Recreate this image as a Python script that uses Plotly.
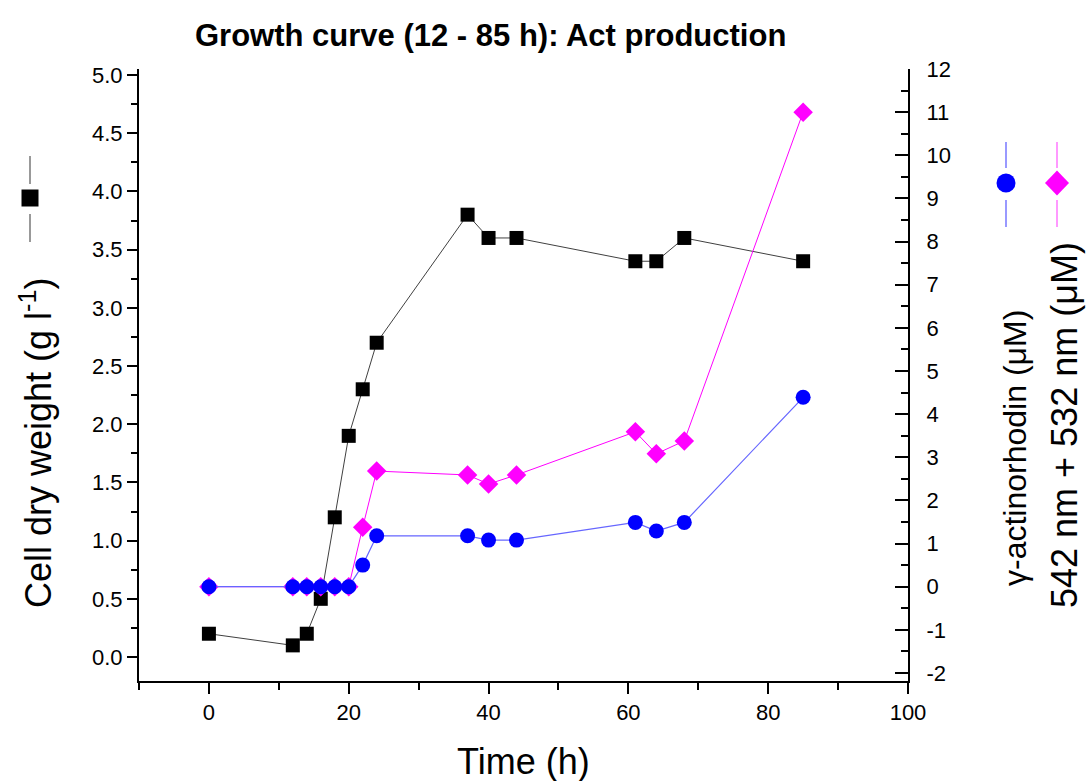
import plotly.graph_objects as go

# ---------------- data ----------------
time_h = [0, 12, 14, 16, 18, 20, 22, 24, 37, 40, 44, 61, 64, 68, 85]
cell_dry_weight = [0.2, 0.1, 0.2, 0.5, 1.2, 1.9, 2.3, 2.7, 3.8, 3.6, 3.6, 3.4, 3.4, 3.6, 3.4]
gamma_act = [0, 0, 0, 0, 0, 0, 0.5, 1.18, 1.18, 1.08, 1.08, 1.49, 1.29, 1.49, 4.39]
nm542_532 = [0, 0, 0, 0, 0, 0, 1.38, 2.68, 2.59, 2.38, 2.59, 3.59, 3.08, 3.38, 11.0]

x_ticks = [0, 20, 40, 60, 80, 100]
left_ticks = [0.0, 0.5, 1.0, 1.5, 2.0, 2.5, 3.0, 3.5, 4.0, 4.5, 5.0]
left_tick_labels = ["0.0", "0.5", "1.0", "1.5", "2.0", "2.5", "3.0", "3.5", "4.0", "4.5", "5.0"]
right_ticks = list(range(-2, 13))
right_tick_labels = [str(v) for v in right_ticks]

title_text = "Growth curve (12 - 85 h): Act production"
xlabel = "Time (h)"
ylabel_left = "Cell dry weight (g l<sup>-1</sup>)"
ylabel_right1 = "γ-actinorhodin (μM)"
ylabel_right2 = "542 nm + 532 nm (μM)"

# ---------------- layout geometry (pixels) ----------------
W, H = 1086, 781
PL, PR, PT, PB = 139, 908, 69, 681


def X(px):
    return (px - PL) / (PR - PL)


def Y(py):
    return (PB - py) / (PB - PT)


FONT = "Liberation Sans, Arial, Helvetica, sans-serif"

fig = go.Figure()

fig.add_trace(go.Scatter(
    x=time_h, y=cell_dry_weight, mode="lines+markers", name="Cell dry weight",
    line=dict(color="#404040", width=1),
    marker=dict(symbol="square", size=14, color="black"),
    yaxis="y", showlegend=False))

fig.add_trace(go.Scatter(
    x=time_h, y=nm542_532, mode="lines+markers", name="542 nm + 532 nm",
    line=dict(color="#ff00ff", width=1),
    marker=dict(symbol="diamond", size=15, color="#ff00ff"),
    yaxis="y2", showlegend=False))

fig.add_trace(go.Scatter(
    x=time_h, y=gamma_act, mode="lines+markers", name="γ-actinorhodin",
    line=dict(color="#6666ff", width=1.2),
    marker=dict(symbol="circle", size=15, color="#0000ff"),
    yaxis="y2", showlegend=False))

axis_common = dict(showgrid=False, zeroline=False, showline=True,
                   linecolor="black", linewidth=2, tickcolor="black",
                   tickwidth=2, tickfont=dict(family=FONT, size=22, color="black"))

fig.update_layout(
    width=W, height=H,
    margin=dict(l=PL, r=W - PR, t=PT, b=H - PB, autoexpand=False),
    paper_bgcolor="white", plot_bgcolor="white",
    showlegend=False,
    xaxis=dict(range=[-10, 100], tickvals=x_ticks, ticks="outside", ticklen=11,
               minor=dict(dtick=10, ticks="outside", ticklen=7, tickwidth=2, tickcolor="black"),
               **axis_common),
    yaxis=dict(range=[-0.206, 5.0515], tickvals=left_ticks, ticktext=left_tick_labels,
               ticks="outside", ticklen=10,
               minor=dict(dtick=0.25, ticks="outside", ticklen=6, tickwidth=2, tickcolor="black"),
               **axis_common),
    yaxis2=dict(range=[-2.186, 12.0], tickvals=right_ticks, ticktext=right_tick_labels,
                overlaying="y", side="right",
                ticks="inside", ticklen=13, ticklabelstandoff=12,
                minor=dict(dtick=0.5, ticks="inside", ticklen=7, tickwidth=2, tickcolor="black"),
                **axis_common),
)

annotations = [
    dict(text="<b>" + title_text + "</b>", x=X(490), y=Y(36), font=dict(size=31)),
    dict(text=xlabel, x=X(523), y=Y(761), font=dict(size=36)),
    dict(text=ylabel_left, x=X(36), y=Y(443), textangle=-90, font=dict(size=36)),
    dict(text=ylabel_right1, x=X(1015), y=Y(448), textangle=-90, font=dict(size=32)),
    dict(text=ylabel_right2, x=X(1065), y=Y(425), textangle=-90, font=dict(size=36)),
]
for a in annotations:
    a.update(xref="paper", yref="paper", showarrow=False, xanchor="center", yanchor="middle")
    a["font"].update(family=FONT, color="black")
fig.update_layout(annotations=annotations)

shapes = []
# left legend glyph (square with vertical line)
shapes.append(dict(type="line", x0=X(30), x1=X(30), y0=Y(156), y1=Y(184), line=dict(color="#999999", width=2)))
shapes.append(dict(type="line", x0=X(30), x1=X(30), y0=Y(214), y1=Y(242), line=dict(color="#999999", width=2)))
shapes.append(dict(type="rect", x0=X(21.5), x1=X(38.5), y0=Y(189.5), y1=Y(206.5), fillcolor="black", line=dict(width=0)))
# right legend glyphs
for cx, col in [(1006, "#9999ff"), (1057, "#ff99ff")]:
    shapes.append(dict(type="line", x0=X(cx), x1=X(cx), y0=Y(142), y1=Y(168), line=dict(color=col, width=2)))
    shapes.append(dict(type="line", x0=X(cx), x1=X(cx), y0=Y(200), y1=Y(227), line=dict(color=col, width=2)))
shapes.append(dict(type="circle", x0=X(996.5), x1=X(1015.5), y0=Y(173.5), y1=Y(192.5), fillcolor="#0000ff", line=dict(width=0)))
shapes.append(dict(type="path",
                   path=f"M {X(1057)},{Y(170.5)} L {X(1069)},{Y(183)} L {X(1057)},{Y(195.5)} L {X(1045)},{Y(183)} Z",
                   fillcolor="#ff00ff", line=dict(width=0)))
for s in shapes:
    s.update(xref="paper", yref="paper", layer="above")
fig.update_layout(shapes=shapes)

fig.write_html("out.html")
